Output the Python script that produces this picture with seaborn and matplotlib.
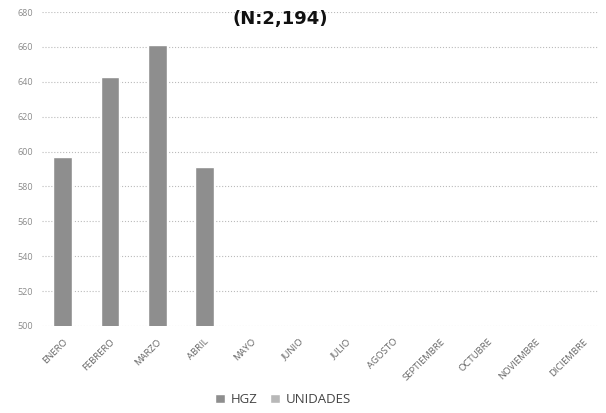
import pandas as pd
import numpy as np
import matplotlib.pyplot as plt
import seaborn as sns

# Data
meses = ['ENERO', 'FEBRERO', 'MARZO', 'ABRIL', 'MAYO', 'JUNIO', 'JULIO',
         'AGOSTO', 'SEPTIEMBRE', 'OCTUBRE', 'NOVIEMBRE', 'DICIEMBRE']
hgz = [597, 643, 661, 591, np.nan, np.nan, np.nan, np.nan, np.nan, np.nan, np.nan, np.nan]
unidades = [0, 0, 0, 0, np.nan, np.nan, np.nan, np.nan, np.nan, np.nan, np.nan, np.nan]
series = ['HGZ', 'UNIDADES']
y_ticks = [500, 520, 540, 560, 580, 600, 620, 640, 660, 680]

df = pd.DataFrame({
    'mes': meses * 2,
    'valor': hgz + unidades,
    'serie': [series[0]] * 12 + [series[1]] * 12,
})

sns.set_style('white')
plt.rcParams['font.family'] = ['Open Sans', 'DejaVu Sans']

fig = plt.figure(figsize=(6.06, 4.13), dpi=100)
ax = fig.add_axes([0.0685, 0.2107, 0.92, 0.76])

sns.barplot(data=df, x='mes', y='valor', hue='serie', order=meses,
            hue_order=series, dodge=False, width=0.4,
            palette=['#8e8e8e', '#b8b8b8'], ax=ax, legend=True)

ax.set_ylim(500, 680)
ax.set_yticks(y_ticks)
ax.set_yticklabels([str(t) for t in y_ticks], fontsize=6.5, color='#8a8a8a')
ax.set_xticks(range(len(meses)))
ax.set_xticklabels(meses, rotation=45, ha='right', rotation_mode='anchor',
                   fontsize=6.8, color='#666666')
ax.tick_params(axis='y', length=0, pad=6)
ax.tick_params(axis='x', length=0, pad=8)
ax.set_xlabel('')
ax.set_ylabel('')
ax.yaxis.grid(True, linestyle=':', color='#bbbbbb', linewidth=0.8)
ax.set_axisbelow(True)
sns.despine(ax=ax, left=True, bottom=True, top=True, right=True)
ax.set_xlim(-0.45, 11.35)

fig.text(0.463, 0.955, '(N:2,194)', ha='center', va='center',
         fontsize=13, fontweight='bold', color='#111111',
         family=['DejaVu Sans'])

ax.legend(loc='center', bbox_to_anchor=(0.433, -0.235), ncol=2,
          frameon=False, fontsize=9.5, handlelength=0.75, handleheight=0.75,
          columnspacing=1.0, handletextpad=0.4, labelcolor='#444444')

fig.savefig('out.png', dpi=100)
